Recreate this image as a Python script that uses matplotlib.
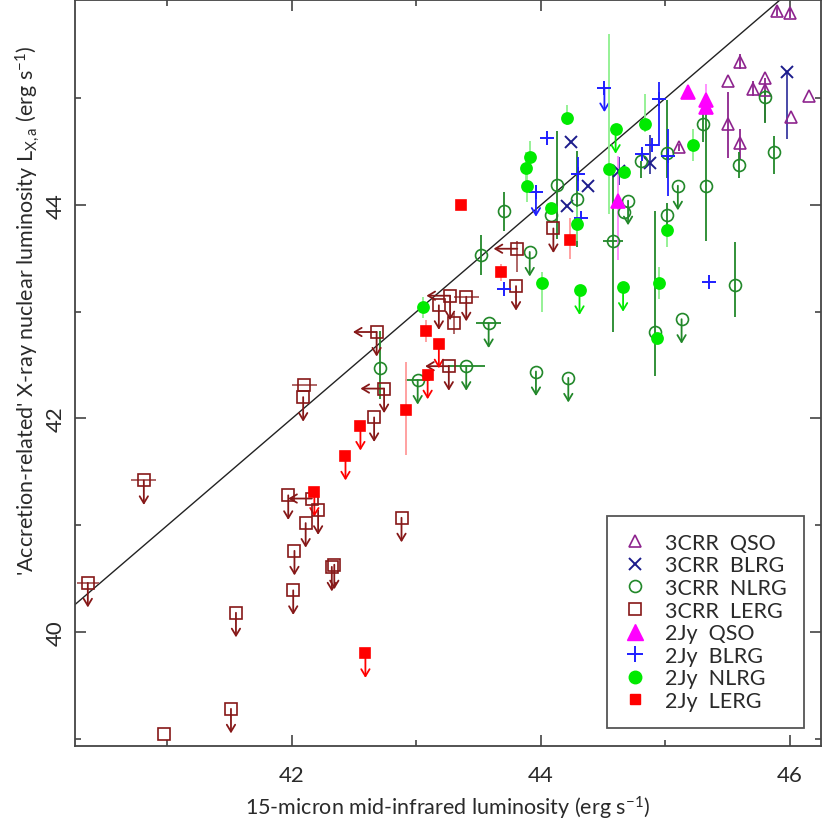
import numpy as np
import matplotlib.pyplot as plt
from matplotlib.lines import Line2D

plt.rcParams['font.family'] = ['Lato', 'DejaVu Sans']
plt.rcParams['mathtext.fontset'] = 'custom'
plt.rcParams['mathtext.rm'] = 'Lato'
plt.rcParams['mathtext.it'] = 'Lato:italic'

## Data (log luminosities) ##

# 3CRR QSO
qso3_x = [45.90, 46.00, 45.60, 45.50, 45.80, 45.70, 45.80, 46.15, 46.01, 45.50, 45.60, 45.11]
qso3_y = [45.82, 45.80, 45.34, 45.16, 45.19, 45.09, 45.08, 45.02, 44.82, 44.76, 44.58, 44.54]
qso3_lo = [0.05, 0.05, 0.07, 0, 0.41, 0.07, 0, 0, 0, 0.32, 0.15, 0.03]
qso3_hi = [0.05, 0.05, 0.07, 0, 0, 0.07, 0, 0, 0, 0.30, 0.13, 0.03]

# 3CRR BLRG
blrg3_x = [44.24, 44.88, 44.38, 44.21, 45.98, 44.63]
blrg3_y = [44.59, 44.39, 44.18, 43.99, 45.25, 44.32]
blrg3_lo = [0, 0.10, 0, 0, 0.63, 0.13]
blrg3_hi = [0, 0.27, 0, 0, 0, 0.13]

# 3CRR NLRG
nlrg3_x = [45.80, 45.30, 45.87, 45.59, 45.01, 44.80, 44.13, 44.29, 44.08, 44.70, 44.67, 45.10, 45.33, 45.01,
           44.58, 43.70, 43.52, 43.91, 43.58, 43.40, 43.96, 44.22, 45.56, 45.13, 44.92, 43.01, 42.71]
nlrg3_y = [45.01, 44.76, 44.50, 44.37, 44.49, 44.41, 44.19, 44.06, 43.91, 44.04, 43.93, 44.18, 44.18, 43.91,
           43.66, 43.94, 43.53, 43.56, 42.89, 42.49, 42.44, 42.38, 43.25, 42.93, 42.81, 42.36, 42.47]
nlrg3_lo = [0.24, 0.17, 0.21, 0.12, 0.24, 0.16, 0.51, 0.45, 0, 0, 0, 0, 0.52, 0.11,
            0.85, 0.18, 0.19, 0, 0, 0, 0, 0, 0.30, 0, 0.41, 0, 0.29]
nlrg3_hi = [0.07, 0.14, 0.15, 0.13, 0.49, 0, 0.50, 0.45, 0, 0, 0, 0, 0.79, 0.11,
            0.71, 0.18, 0.19, 0, 0, 0, 0, 0, 0.40, 0, 1.13, 0, 0.35]
nlrg3_xe = [0, 0, 0, 0, 0, 0, 0, 0, 0, 0, 0, 0, 0, 0,
            0.08, 0, 0, 0, 0.1, 0.15, 0, 0, 0, 0, 0, 0.1, 0]
nlrg3_ul = [0, 0, 0, 0, 0, 0, 0, 0, 0, 1, 0, 1, 0, 0,
            0, 0, 0, 1, 1, 1, 1, 1, 0, 1, 0, 1, 0]

# 3CRR LERG
lerg3_x = [42.10, 42.09, 40.81, 40.36, 41.55, 41.51, 40.97, 41.97, 42.16, 42.21, 42.11, 42.02, 42.01, 42.32,
           42.34, 42.88, 42.66, 42.74, 42.68, 43.27, 43.18, 43.40, 43.30, 43.26, 44.10, 43.81, 43.80]
lerg3_y = [42.31, 42.20, 41.42, 40.46, 40.18, 39.28, 39.04, 41.28, 41.25, 41.14, 41.02, 40.76, 40.39, 40.61,
           40.63, 41.07, 42.01, 42.28, 42.81, 43.15, 43.06, 43.14, 42.89, 42.49, 43.78, 43.59, 43.24]
lerg3_lo = [0]*22 + [0.1, 0, 0, 0.22, 0]
lerg3_hi = [0]*22 + [0.1, 0, 0, 0.07, 0]
lerg3_xe = [0.1, 0, 0.1, 0.09] + [0]*17 + [0.1] + [0]*5
lerg3_ul = [0, 1, 1, 1, 1, 1, 0, 1, 0, 1, 1, 1, 1, 1,
            1, 1, 1, 1, 1, 1, 1, 1, 0, 1, 1, 0, 1]
lerg3_ll = [0, 0, 0, 0, 0, 0, 0, 0, 1, 0, 0, 0, 0, 0,
            0, 0, 0, 1, 1, 1, 0, 0, 0, 1, 0, 1, 0]

# 2Jy QSO
qso2_x = [45.18, 45.33, 45.33, 44.62]
qso2_y = [45.06, 44.98, 44.92, 44.04]
qso2_lo = [0, 0, 0, 0.56]
qso2_hi = [0, 0.15, 0, 0.42]

# 2Jy BLRG
blrg2_x = [44.51, 44.05, 44.95, 44.89, 44.81, 45.02, 44.30, 43.96, 44.32, 45.35, 43.70]
blrg2_y = [45.10, 44.63, 44.99, 44.56, 44.48, 44.46, 44.29, 44.12, 43.88, 43.28, 43.21]
blrg2_lo = [0, 0, 0.44, 0, 0, 0.38, 0.16, 0, 0, 0, 0]
blrg2_hi = [0, 0, 0.16, 0, 0, 0.25, 0.16, 0, 0, 0, 0]
blrg2_ul = [1, 0, 0, 0, 0, 0, 0, 1, 0, 0, 0]

# 2Jy NLRG
nlrg2_x = [44.21, 44.60, 44.84, 43.91, 43.88, 43.89, 44.55, 44.67, 45.22, 44.08, 44.29, 45.01,
           44.01, 44.31, 44.66, 44.95, 44.93, 43.05]
nlrg2_y = [44.81, 44.71, 44.76, 44.45, 44.35, 44.18, 44.34, 44.31, 44.56, 43.97, 43.82, 43.77,
           43.27, 43.20, 43.23, 43.27, 42.75, 43.04]
nlrg2_lo = [0.06, 0, 0.08, 0.15, 0.15, 0.15, 0.42, 0, 0.15, 0, 0.16, 0.16, 0.27, 0, 0, 0.15, 0, 0.1]
nlrg2_hi = [0.13, 0, 0.28, 0.15, 0.15, 0.15, 1.26, 0, 0.15, 0, 0.16, 0, 0.10, 0, 0, 0.15, 0, 0.1]
nlrg2_ul = [0, 1, 0, 0, 0, 0, 0, 0, 0, 0, 0, 0, 0, 1, 1, 0, 0, 0]

# 2Jy LERG
lerg2_x = [43.36, 44.23, 43.68, 43.08, 43.18, 43.09, 42.92, 42.55, 42.43, 42.18, 42.59]
lerg2_y = [44.00, 43.67, 43.37, 42.82, 42.70, 42.41, 42.08, 41.93, 41.65, 41.31, 39.80]
lerg2_lo = [0.05, 0.18, 0.08, 0.10, 0, 0, 0.42, 0, 0, 0, 0]
lerg2_hi = [0.05, 0.21, 0.08, 0.10, 0, 0, 0.45, 0, 0, 0, 0]
lerg2_ul = [0, 0, 0, 0, 1, 1, 0, 1, 1, 1, 1]

# one-to-one line
line_x = [40, 47]
line_y = [40, 47]

labels = ['3CRR  QSO', '3CRR  BLRG', '3CRR  NLRG', '3CRR  LERG',
          '2Jy  QSO', '2Jy  BLRG', '2Jy  NLRG', '2Jy  LERG']

## Plot ##
fig = plt.figure(figsize=(8.22, 8.29), dpi=100)
ax = fig.add_axes([75/822, 1-747/829, 746/822, 746/829])


def draw(x, y, lo, hi, color, ecolor, marker, ms, filled, ul=None, ll=None, xe=None, mew=1.2):
    n = len(x)
    ul = ul if ul is not None else [0]*n
    ll = ll if ll is not None else [0]*n
    xe = xe if xe is not None else [0]*n
    ax.errorbar(x, y, yerr=[lo, hi], xerr=xe, fmt='none', ecolor=ecolor,
                elinewidth=1.3, capsize=0, zorder=2)
    for xi, yi, u, l in zip(x, y, ul, ll):
        if u:
            ax.annotate('', xy=(xi, yi-0.23), xytext=(xi, yi),
                        arrowprops=dict(arrowstyle='->,head_length=0.5,head_width=0.3',
                                        color=color, lw=1.3, shrinkA=0, shrinkB=0,
                                        mutation_scale=10), zorder=2)
        if l:
            ax.annotate('', xy=(xi-0.19, yi), xytext=(xi, yi),
                        arrowprops=dict(arrowstyle='->,head_length=0.5,head_width=0.3',
                                        color=color, lw=1.3, shrinkA=0, shrinkB=0,
                                        mutation_scale=10), zorder=2)
    ax.plot(x, y, ls='none', marker=marker, ms=ms, mew=mew, mec=color,
            mfc=color if filled else 'none', zorder=3)


c_qso3, c_blrg3, c_nlrg3, c_lerg3 = '#8e248e', '#1c1c8c', '#22882a', '#861818'
c_qso2, c_blrg2, c_nlrg2, c_lerg2 = '#ff00ff', '#1e1eff', '#00ea00', '#ff0000'
txt = '#2a2a2a'

ax.plot(line_x, line_y, color='#222222', lw=1.0, zorder=1)

draw(qso3_x, qso3_y, qso3_lo, qso3_hi, c_qso3, c_qso3, '^', 9, False)
draw(blrg3_x, blrg3_y, blrg3_lo, blrg3_hi, c_blrg3, '#3a3aa0', 'x', 8, False, mew=1.4)
draw(nlrg3_x, nlrg3_y, nlrg3_lo, nlrg3_hi, c_nlrg3, c_nlrg3, 'o', 8.6, False, ul=nlrg3_ul, xe=nlrg3_xe)
draw(lerg3_x, lerg3_y, lerg3_lo, lerg3_hi, c_lerg3, '#a85a5a', 's', 8, False, ul=lerg3_ul, ll=lerg3_ll, xe=lerg3_xe)
draw(qso2_x, qso2_y, qso2_lo, qso2_hi, c_qso2, '#ff88ff', '^', 9.5, True)
draw(blrg2_x, blrg2_y, blrg2_lo, blrg2_hi, c_blrg2, c_blrg2, '+', 10, False, ul=blrg2_ul, mew=1.4)
draw(nlrg2_x, nlrg2_y, nlrg2_lo, nlrg2_hi, c_nlrg2, '#8ef08e', 'o', 8, True, ul=nlrg2_ul)
draw(lerg2_x, lerg2_y, lerg2_lo, lerg2_hi, c_lerg2, '#ff9a9a', 's', 7.3, True, ul=lerg2_ul)

ax.set_xlim(40.257, 46.25)
ax.set_ylim(38.932, 45.92)
ax.set_xticks([42, 44, 46])
ax.set_xticks([41, 43, 45], minor=True)
ax.set_yticks([40, 42, 44])
ax.set_yticks([39, 41, 43, 45], minor=True)
ax.tick_params(which='both', direction='in', top=True, right=True, color='#444444',
               width=1.2, labelsize=16, labelcolor=txt)
ax.tick_params(which='major', length=8)
ax.tick_params(which='minor', length=4.5)
ax.tick_params(axis='x', which='major', pad=14)
ax.tick_params(axis='y', which='major', pad=14)
for lab in ax.get_yticklabels():
    lab.set_rotation(90)
    lab.set_va('center')
    lab.set_ha('center')
for s in ax.spines.values():
    s.set_color('#444444')
    s.set_linewidth(1.3)

fig.text(448/822, 1-808/829, r'15-micron mid-infrared luminosity (erg s$^{-1}$)',
         ha='center', va='center', fontsize=15.5, color=txt)
fig.text(28/822, 1-311/829,
         r"'Accretion-related' X-ray nuclear luminosity L$_{\rm X,a}$ (erg s$^{-1}$)",
         rotation=90, ha='center', va='center', fontsize=15.5, color=txt)

handles = [
    Line2D([], [], ls='none', marker='^', ms=9, mew=1.2, mec=c_qso3, mfc='none'),
    Line2D([], [], ls='none', marker='x', ms=8, mew=1.4, mec=c_blrg3),
    Line2D([], [], ls='none', marker='o', ms=8.6, mew=1.2, mec=c_nlrg3, mfc='none'),
    Line2D([], [], ls='none', marker='s', ms=8, mew=1.2, mec=c_lerg3, mfc='none'),
    Line2D([], [], ls='none', marker='^', ms=11, mec=c_qso2, mfc=c_qso2),
    Line2D([], [], ls='none', marker='+', ms=11, mew=1.4, mec=c_blrg2),
    Line2D([], [], ls='none', marker='o', ms=9, mec=c_nlrg2, mfc=c_nlrg2),
    Line2D([], [], ls='none', marker='s', ms=7.5, mec=c_lerg2, mfc=c_lerg2),
]
leg = ax.legend(handles, labels, loc='lower right', bbox_to_anchor=(0.977, 0.024),
                borderaxespad=0, fontsize=15.5, frameon=True, fancybox=False,
                edgecolor='#555555', framealpha=1, labelspacing=0.12,
                handlelength=1.0, handletextpad=0.9, borderpad=0.8)
leg.get_frame().set_linewidth(1.3)
for t in leg.get_texts():
    t.set_color(txt)

fig.savefig('out.png', dpi=100)
